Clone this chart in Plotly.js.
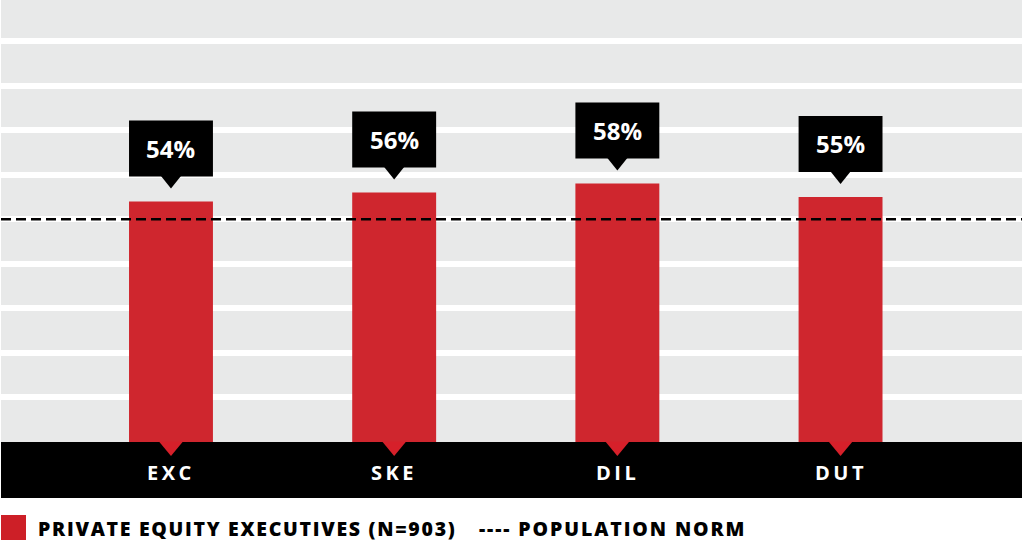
<!DOCTYPE html>
<html><head><meta charset="utf-8">
<script src="https://cdn.plot.ly/plotly-3.0.1.min.js"></script>
<style>html,body{margin:0;padding:0;background:#fff}#chart{width:1024px;height:547px}</style>
</head><body><div id="chart"></div>
<script>
// ---- data ----
const categories = ['EXC', 'SKE', 'DIL', 'DUT'];
const values = [54, 56, 58, 55];
const valueLabels = ['54%', '56%', '58%', '55%'];
const populationNorm = [50];
const seriesName = 'PRIVATE EQUITY EXECUTIVES (N=903)';
const normName = 'POPULATION NORM';

// ---- style ----
const RED = '#cd1f27';
const BAR_W = 0.376;
const FONT = 'Open Sans, sans-serif';
const spaced = (t, px) => '<span style="letter-spacing:' + px + 'px">' + t + '</span>';

const shapes = [];
const annotations = [];

// black category band under the plot
shapes.push({type: 'rect', xref: 'paper', yref: 'paper', x0: 0, x1: 1,
  ysizemode: 'pixel', yanchor: 0, y0: 0, y1: -56,
  fillcolor: '#000', line: {width: 0}, layer: 'above'});

// population norm dashed line
shapes.push({type: 'line', xref: 'paper', x0: 0, x1: 1, yref: 'y',
  y0: populationNorm[0], y1: populationNorm[0],
  line: {color: '#000', width: 2.5, dash: '10px,5px'}, layer: 'above'});

categories.forEach((c, i) => {
  // callout box
  shapes.push({type: 'rect', xref: 'x', x0: i - BAR_W / 2, x1: i + BAR_W / 2,
    yref: 'y', ysizemode: 'pixel', yanchor: values[i], y0: 25, y1: 81,
    fillcolor: '#000', line: {width: 0}, layer: 'above'});
  // callout pointer
  shapes.push({type: 'path', xref: 'x', xsizemode: 'pixel', xanchor: i,
    yref: 'y', ysizemode: 'pixel', yanchor: values[i],
    path: 'M -10 25.5 L 10 25.5 L 0 13 Z',
    fillcolor: '#000', line: {width: 0}, layer: 'above'});
  // red pointer under bar into band
  shapes.push({type: 'path', xref: 'x', xsizemode: 'pixel', xanchor: i,
    yref: 'paper', ysizemode: 'pixel', yanchor: 0,
    path: 'M -12 0.5 L 12 0.5 L 0 -14 Z',
    fillcolor: '#d6202a', line: {width: 0}, layer: 'above'});
  // value label
  annotations.push({x: c, y: values[i], xref: 'x', yref: 'y', yshift: 53,
    text: valueLabels[i], showarrow: false, xanchor: 'center', yanchor: 'middle',
    font: {family: FONT, size: 24, weight: 700, color: '#fff'}});
  // category label
  annotations.push({x: c, y: 0, xref: 'x', yref: 'paper', yshift: -30,
    text: spaced(c, 3.5), showarrow: false, xanchor: 'center', yanchor: 'middle',
    font: {family: FONT, size: 20, weight: 700, color: '#fff'}});
});

// legend
shapes.push({type: 'rect', xref: 'paper', xsizemode: 'pixel', xanchor: 0, x0: 0, x1: 25,
  yref: 'paper', ysizemode: 'pixel', yanchor: 0, y0: -73, y1: -98,
  fillcolor: RED, line: {width: 0}});
annotations.push({x: 0, xref: 'paper', xshift: 35, xanchor: 'left',
  y: 0, yref: 'paper', yshift: -86, yanchor: 'middle', showarrow: false,
  text: spaced(seriesName, 1.7),
  font: {family: FONT, size: 19.5, weight: 800, color: '#000'}});
annotations.push({x: 0, xref: 'paper', xshift: 476, xanchor: 'left',
  y: 0, yref: 'paper', yshift: -86, yanchor: 'middle', showarrow: false,
  text: spaced('---- ' + normName, 1.9),
  font: {family: FONT, size: 19.5, weight: 800, color: '#000'}});

const trace = {type: 'bar', x: categories, y: values, name: seriesName,
  width: BAR_W, marker: {color: RED, line: {width: 0}}, opacity: 0.97,
  hoverinfo: 'skip', showlegend: false};

const layout = {
  width: 1024, height: 547,
  margin: {l: 1, r: 2, t: 0, b: 105, pad: 0},
  paper_bgcolor: '#ffffff', plot_bgcolor: '#e8e9e9',
  showlegend: false,
  xaxis: {type: 'category', range: [-0.7616, 3.813], showticklabels: false,
    showgrid: false, zeroline: false, showline: false, ticks: '', fixedrange: true},
  yaxis: {range: [0, 99.2], tick0: 0, dtick: 10, showticklabels: false,
    showgrid: true, gridcolor: '#ffffff', gridwidth: 6, zeroline: false,
    showline: false, ticks: '', fixedrange: true},
  shapes: shapes, annotations: annotations,
  font: {family: FONT}
};

Plotly.newPlot('chart', [trace], layout, {displayModeBar: false, staticPlot: true});
</script>
</body></html>
